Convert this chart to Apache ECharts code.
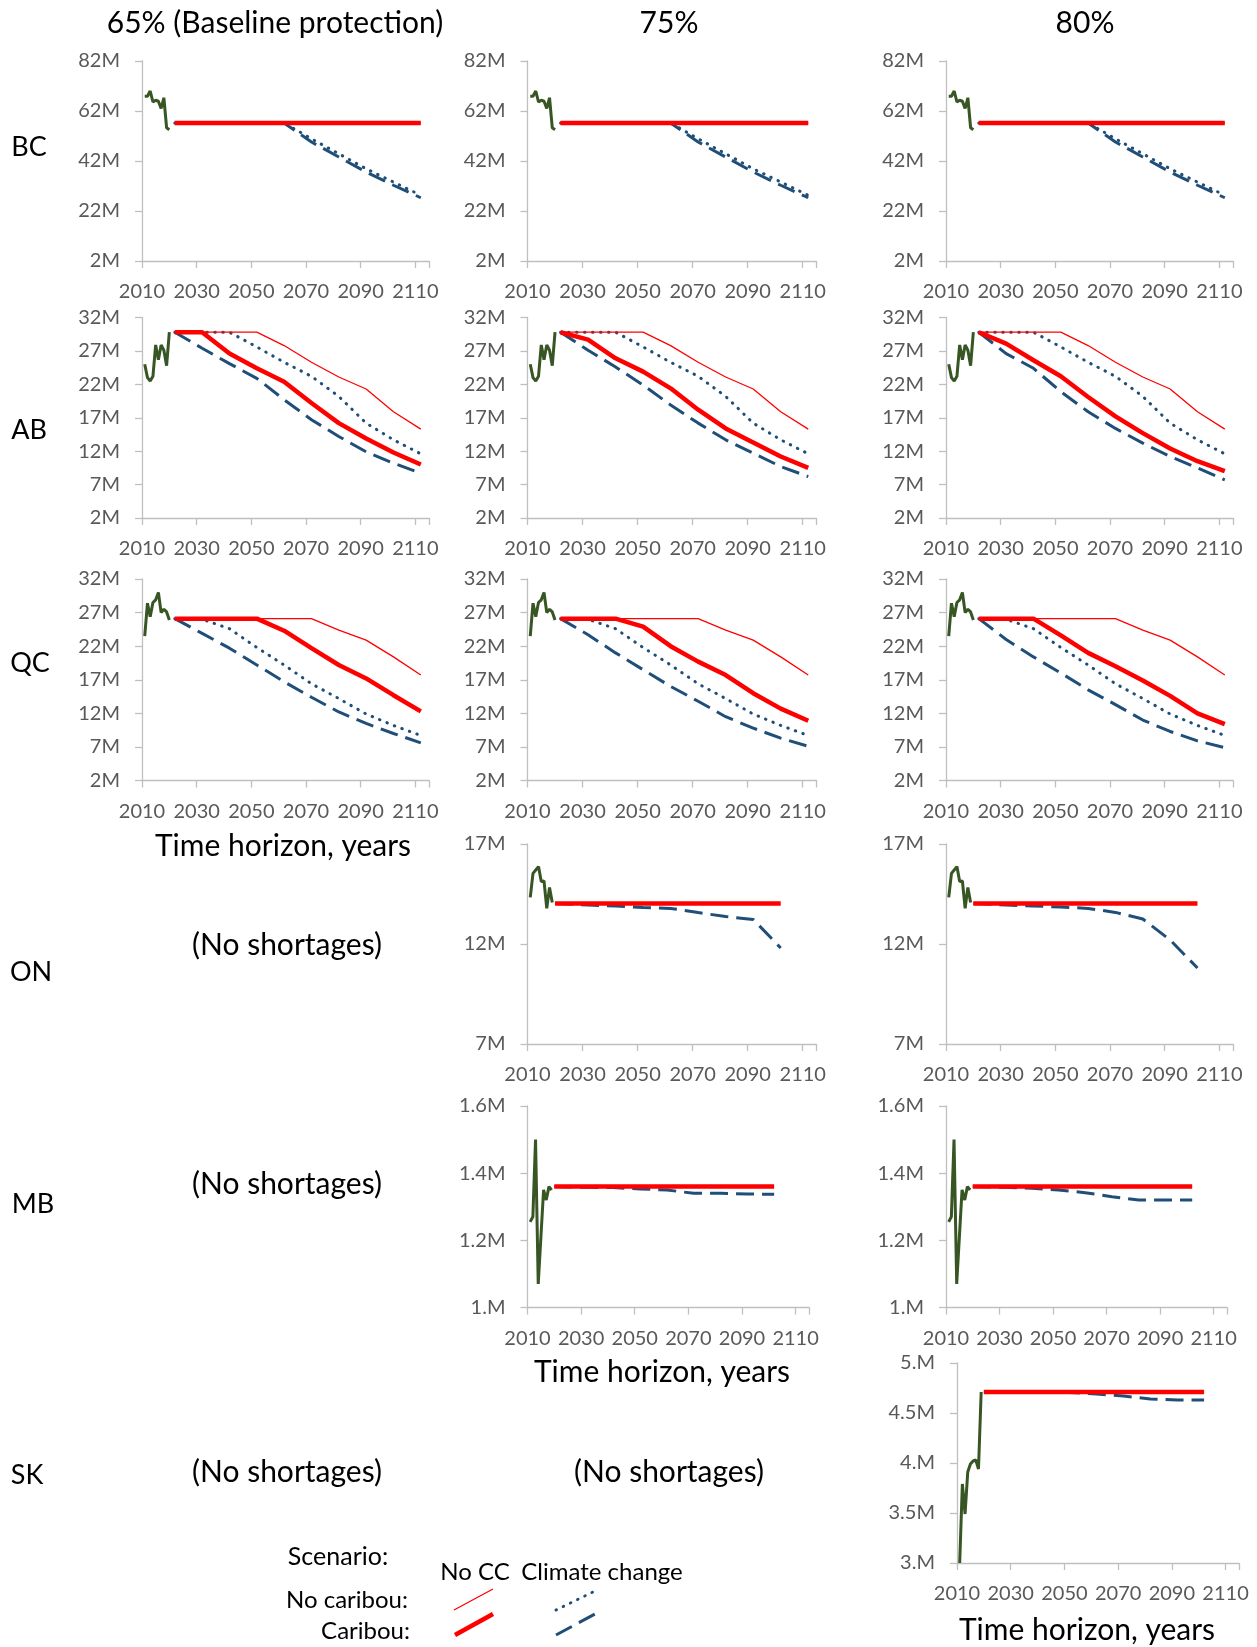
<!DOCTYPE html>
<html>
<head>
<meta charset="utf-8">
<script src="https://cdn.jsdelivr.net/npm/echarts@6/dist/echarts.min.js"></script>
<style>
  html, body { margin: 0; padding: 0; background: #fff; }
  #main { width: 1257px; height: 1647px; }
</style>
</head>
<body>
<div id="main"></div>
<script>
// years
const histYears = [2011, 2012, 2013, 2014, 2015, 2016, 2017, 2018, 2019, 2020]
const histYearsShort = [2011, 2012, 2013, 2014, 2015, 2016, 2017, 2018, 2019]
const projYears = [2022, 2032, 2042, 2052, 2062, 2072, 2082, 2092, 2102, 2112]
const projYearsShort = [2020, 2032, 2042, 2052, 2062, 2072, 2082, 2092, 2102]

// tick labels
const yearTicks = ['2010', '2030', '2050', '2070', '2090', '2110']
const bcTicks = ['2M', '22M', '42M', '62M', '82M']
const abTicks = ['2M', '7M', '12M', '17M', '22M', '27M', '32M']
const onTicks = ['7M', '12M', '17M']
const mbTicks = ['1.M', '1.2M', '1.4M', '1.6M']
const skTicks = ['3.M', '3.5M', '4.M', '4.5M', '5.M']

// BC (millions)
const bcHist = [67.9, 67.9, 70.0, 65.6, 66.3, 65.9, 63.0, 67.3, 55.3, 54.5]
const bcNoCarNoCC = [57.2, 57.2, 57.2, 57.2, 57.2, 57.2, 57.2, 57.2, 57.2, 57.2]
const bcNoCarCC = [57.2, 57.2, 57.2, 57.2, 57.2, 50.9, 44.9, 38.9, 33.6, 28.3]
const bcCarNoCC = [57.2, 57.2, 57.2, 57.2, 57.2, 57.2, 57.2, 57.2, 57.2, 57.2]
const bcCarCC = [57.2, 57.2, 57.2, 57.2, 57.2, 49.6, 43.6, 37.6, 32.3, 27.3]

// AB
const abHist = [25.0, 23.0, 22.5, 23.2, 27.9, 25.7, 27.9, 27.1, 24.8, 29.8]
const abNoCarNoCC = [29.8, 29.8, 29.8, 29.8, 27.8, 25.3, 23.1, 21.3, 17.9, 15.3]
const abNoCarCC = [29.8, 29.8, 29.8, 27.6, 25.3, 23.2, 20.2, 16.2, 13.7, 11.6]
const abCarNoCC65 = [29.8, 29.8, 26.6, 24.4, 22.4, 19.2, 16.2, 13.9, 11.8, 10.0]
const abCarNoCC75 = [29.8, 28.7, 25.9, 23.9, 21.4, 18.2, 15.4, 13.3, 11.2, 9.5]
const abCarNoCC80 = [29.8, 28.1, 25.6, 23.2, 20.1, 17.2, 14.7, 12.4, 10.5, 9.0]
const abCarCC65 = [29.8, 27.4, 25.1, 22.9, 19.7, 16.7, 14.2, 11.9, 10.2, 8.7]
const abCarCC75 = [29.8, 27.1, 24.6, 21.9, 18.9, 16.2, 13.7, 11.7, 9.7, 8.2]
const abCarCC80 = [29.8, 26.6, 24.4, 20.9, 17.9, 15.4, 13.2, 11.2, 9.5, 7.7]

// QC
const qcHist = [23.5, 28.4, 26.4, 28.5, 28.9, 30.0, 27.0, 27.5, 27.1, 25.9]
const qcNoCarNoCC = [26.1, 26.1, 26.1, 26.1, 26.1, 26.1, 24.4, 22.9, 20.4, 17.7]
const qcNoCarCC = [26.1, 26.0, 24.6, 21.8, 19.2, 16.4, 14.2, 11.9, 10.2, 8.7]
const qcCarNoCC65 = [26.1, 26.1, 26.1, 26.1, 24.3, 21.7, 19.2, 17.2, 14.7, 12.3]
const qcCarNoCC75 = [26.1, 26.1, 26.1, 24.9, 22.0, 19.7, 17.7, 15.0, 12.7, 10.9]
const qcCarNoCC80 = [26.1, 26.1, 26.1, 23.6, 21.0, 19.0, 16.9, 14.6, 12.0, 10.4]
const qcCarCC65 = [26.1, 23.9, 21.7, 19.2, 16.7, 14.4, 12.2, 10.5, 9.0, 7.6]
const qcCarCC75 = [26.1, 23.7, 21.0, 18.5, 16.0, 13.8, 11.5, 9.8, 8.3, 7.1]
const qcCarCC80 = [26.1, 23.0, 20.4, 18.0, 15.5, 13.3, 11.0, 9.3, 7.9, 6.9]

// ON
const onHist = [14.33, 15.53, 15.7, 15.87, 15.12, 15.15, 13.78, 14.83, 14.07]
const onCarNoCC = [14.03, 14.03, 14.03, 14.03, 14.03, 14.03, 14.03, 14.03, 14.03]
const onCarCC75 = [14.03, 13.95, 13.9, 13.83, 13.78, 13.57, 13.37, 13.23, 11.8]
const onCarCC80 = [14.03, 13.95, 13.9, 13.85, 13.78, 13.58, 13.25, 12.2, 10.8]

// MB
const mbHist = [1.255, 1.27, 1.50, 1.07, 1.21, 1.35, 1.32, 1.36, 1.35]
const mbCarNoCC = [1.36, 1.36, 1.36, 1.36, 1.36, 1.36, 1.36, 1.36, 1.36]
const mbCarCC75 = [1.36, 1.358, 1.357, 1.353, 1.35, 1.34, 1.34, 1.338, 1.337]
const mbCarCC80 = [1.36, 1.358, 1.355, 1.35, 1.342, 1.33, 1.32, 1.32, 1.32]

// SK
const skHist = [3.0, 3.79, 3.49, 3.91, 3.99, 4.02, 4.03, 3.94, 4.71]
const skCarNoCC = [4.71, 4.71, 4.71, 4.71, 4.71, 4.71, 4.71, 4.71, 4.71]
const skCarCC80 = [4.71, 4.71, 4.71, 4.705, 4.69, 4.67, 4.64, 4.63, 4.63]

const FONT = 'Lato, "Open Sans", sans-serif'
const GRAY = '#595959'
const AXIS = '#bfbfbf'
const RED = '#ff0000'
const BLUE = '#1f4e79'
const GREEN = '#375623'

const yBC = { min: 2, max: 82, interval: 20, labels: bcTicks }
const yAB = { min: 2, max: 32, interval: 5, labels: abTicks }
const yON = { min: 7, max: 17, interval: 5, labels: onTicks }
const yMB = { min: 1, max: 1.6, interval: 0.2, labels: mbTicks }
const ySK = { min: 3, max: 5, interval: 0.5, labels: skTicks }

// box = [left, top, width, height]
const panels = [
  { box: [142, 61, 287, 200], y: yBC, hy: histYears, hist: bcHist, py: projYears, thin: bcNoCarNoCC, dot: bcNoCarCC, dash: bcCarCC, thick: bcCarNoCC },
  { box: [527.5, 61, 289, 200], y: yBC, hy: histYears, hist: bcHist, py: projYears, thin: bcNoCarNoCC, dot: bcNoCarCC, dash: bcCarCC, thick: bcCarNoCC },
  { box: [946, 61, 287, 200], y: yBC, hy: histYears, hist: bcHist, py: projYears, thin: bcNoCarNoCC, dot: bcNoCarCC, dash: bcCarCC, thick: bcCarNoCC },
  { box: [142, 317.5, 287, 200.5], y: yAB, hy: histYears, hist: abHist, py: projYears, thin: abNoCarNoCC, dot: abNoCarCC, dash: abCarCC65, thick: abCarNoCC65 },
  { box: [527.5, 317.5, 289, 200.5], y: yAB, hy: histYears, hist: abHist, py: projYears, thin: abNoCarNoCC, dot: abNoCarCC, dash: abCarCC75, thick: abCarNoCC75 },
  { box: [946, 317.5, 287, 200.5], y: yAB, hy: histYears, hist: abHist, py: projYears, thin: abNoCarNoCC, dot: abNoCarCC, dash: abCarCC80, thick: abCarNoCC80 },
  { box: [142, 579, 287, 201.5], y: yAB, hy: histYears, hist: qcHist, py: projYears, thin: qcNoCarNoCC, dot: qcNoCarCC, dash: qcCarCC65, thick: qcCarNoCC65 },
  { box: [527.5, 579, 289, 201.5], y: yAB, hy: histYears, hist: qcHist, py: projYears, thin: qcNoCarNoCC, dot: qcNoCarCC, dash: qcCarCC75, thick: qcCarNoCC75 },
  { box: [946, 579, 287, 201.5], y: yAB, hy: histYears, hist: qcHist, py: projYears, thin: qcNoCarNoCC, dot: qcNoCarCC, dash: qcCarCC80, thick: qcCarNoCC80 },
  { box: [527.5, 844, 289, 200], y: yON, hy: histYearsShort, hist: onHist, py: projYearsShort, dash: onCarCC75, thick: onCarNoCC },
  { box: [946, 844, 287, 200], y: yON, hy: histYearsShort, hist: onHist, py: projYearsShort, dash: onCarCC80, thick: onCarNoCC },
  { box: [527.5, 1106, 281.5, 201.5], y: yMB, hy: histYearsShort, hist: mbHist, py: projYearsShort, dash: mbCarCC75, thick: mbCarNoCC },
  { box: [946, 1106, 281, 201.5], y: yMB, hy: histYearsShort, hist: mbHist, py: projYearsShort, dash: mbCarCC80, thick: mbCarNoCC },
  { box: [957, 1363, 282, 200], y: ySK, hy: histYearsShort, hist: skHist, py: projYearsShort, dash: skCarCC80, thick: skCarNoCC }
]

function pairs (xs, ys) {
  return ys.map((v, i) => [xs[i], v])
}

function line (i, data, color, width, type, cap) {
  return {
    type: 'line',
    xAxisIndex: i,
    yAxisIndex: i,
    data: data,
    symbol: 'none',
    silent: true,
    lineStyle: { color: color, width: width, type: type || 'solid', cap: cap || 'butt' }
  }
}

const option = { animation: false, grid: [], xAxis: [], yAxis: [], series: [], graphic: [] }

panels.forEach((p, i) => {
  option.grid.push({ left: p.box[0], top: p.box[1], width: p.box[2], height: p.box[3] })
  option.xAxis.push({
    type: 'value',
    gridIndex: i,
    min: 2010,
    max: 2115,
    interval: 20,
    splitLine: { show: false },
    axisLine: { show: true, lineStyle: { color: AXIS, width: 1.3 } },
    axisTick: { show: true, length: 7, lineStyle: { color: AXIS, width: 1.3 } },
    axisLabel: { color: GRAY, fontSize: 20, fontFamily: FONT, margin: 21, formatter: (v, k) => yearTicks[k] || '' }
  })
  option.yAxis.push({
    type: 'value',
    gridIndex: i,
    min: p.y.min,
    max: p.y.max,
    interval: p.y.interval,
    splitLine: { show: false },
    axisLine: { show: true, lineStyle: { color: AXIS, width: 1.3 } },
    axisTick: { show: true, length: 7, lineStyle: { color: AXIS, width: 1.3 } },
    axisLabel: { color: GRAY, fontSize: 20, fontFamily: FONT, margin: 22, formatter: (v, k) => p.y.labels[k] || '' }
  })
  if (p.dash) option.series.push(line(i, pairs(p.py, p.dash), BLUE, 3, [18, 8]))
  if (p.dot) option.series.push(line(i, pairs(p.py, p.dot), BLUE, 3, [0.5, 7.5], 'round'))
  if (p.thin) option.series.push(line(i, pairs(p.py, p.thin), RED, 1.3))
  option.series.push(line(i, pairs(p.hy, p.hist), GREEN, 3))
  option.series.push(line(i, pairs(p.py, p.thick), RED, 4.5))
})

function label (text, x, y, size, align) {
  return {
    type: 'text',
    x: x,
    y: y,
    silent: true,
    style: {
      text: text,
      fill: '#000',
      fontSize: size,
      fontFamily: FONT,
      align: align || 'center',
      textAlign: align || 'center',
      verticalAlign: 'middle',
      textVerticalAlign: 'middle'
    }
  }
}

function sample (x1, y1, x2, y2, color, width, dash, cap) {
  return {
    type: 'line',
    silent: true,
    shape: { x1: x1, y1: y1, x2: x2, y2: y2 },
    style: { stroke: color, lineWidth: width, lineDash: dash || null, lineCap: cap || 'butt' }
  }
}

option.graphic = [
  label('65% (Baseline protection)', 275, 23, 30),
  label('75%', 669, 23, 30),
  label('80%', 1085, 23, 30),
  label('BC', 29, 147, 27),
  label('AB', 29, 430, 27),
  label('QC', 30, 663, 27),
  label('ON', 31, 972, 27),
  label('MB', 33, 1204, 27),
  label('SK', 27, 1475, 27),
  label('Time horizon, years', 283, 846, 30),
  label('Time horizon, years', 662, 1372, 30),
  label('Time horizon, years', 1087, 1630, 30),
  label('(No shortages)', 287, 945, 30),
  label('(No shortages)', 287, 1184, 30),
  label('(No shortages)', 287, 1472, 30),
  label('(No shortages)', 669, 1472, 30),
  label('Scenario:', 338, 1557, 25),
  label('No CC', 475, 1572, 24),
  label('Climate change', 602, 1572, 24),
  label('No caribou:', 408, 1600, 24, 'right'),
  label('Caribou:', 410, 1631, 24, 'right'),
  sample(454, 1610, 493, 1589, RED, 1.3),
  sample(455, 1635, 493, 1614, RED, 4.5),
  sample(556, 1610, 595, 1591, BLUE, 3, [0.5, 7.5], 'round'),
  sample(556, 1635, 595, 1614, BLUE, 3, [18, 8])
]

const chart = echarts.init(document.getElementById('main'), null, { renderer: 'canvas' })
chart.setOption(option)
</script>
</body>
</html>
